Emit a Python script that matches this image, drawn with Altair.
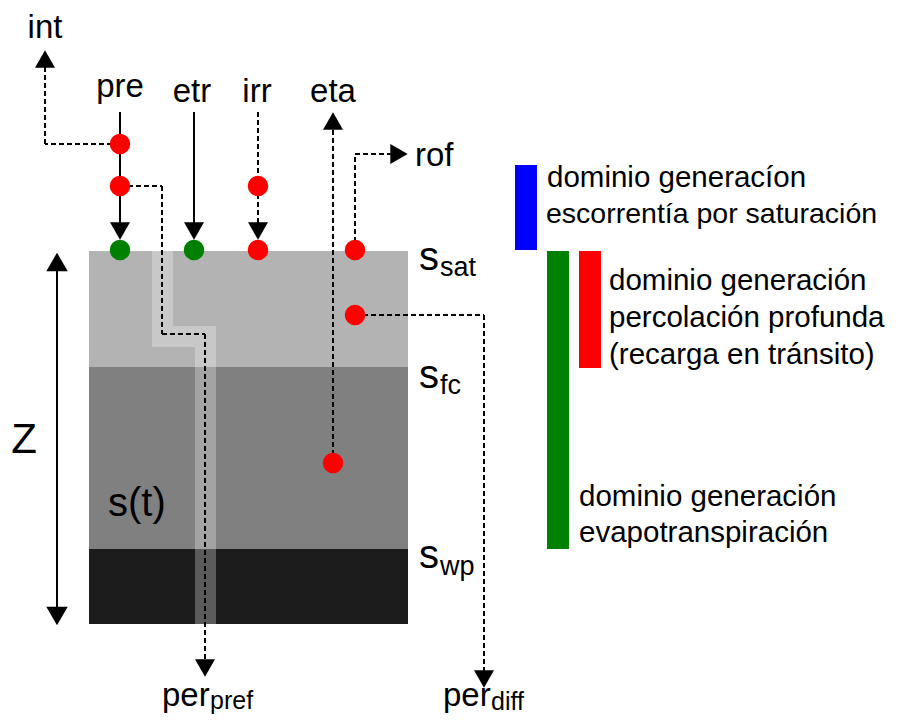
import altair as alt
import pandas as pd

FONT = "Liberation Sans"

# ---- soil column layers (x0, x1, y0, y1, colour) in page pixels ----
layer_x0 = [89, 89, 89]
layer_x1 = [408, 408, 408]
layer_y0 = [251, 367, 549]
layer_y1 = [367, 549, 624]
layer_col = ["#b3b3b3", "#808080", "#1c1c1c"]

# preferential flow path (semi-transparent white strip)
strip_x0 = [152, 152, 195]
strip_x1 = [173, 216, 216]
strip_y0 = [251, 326, 347]
strip_y1 = [326, 347, 624]

# legend bars
bar_x0 = [515, 547, 579]
bar_x1 = [537, 569, 601]
bar_y0 = [165, 251, 251]
bar_y1 = [250, 549, 368]
bar_col = ["#0000ff", "#008000", "#ff0000"]

# solid segments
solid_x = [120, 194, 57]
solid_y = [112, 112, 262]
solid_x2 = [120, 194, 57]
solid_y2 = [228, 228, 616]

# dashed segments
dash_x = [120, 45, 120, 162, 162, 205, 258, 258, 333, 355, 355, 355, 484]
dash_y = [144, 144, 186, 186, 334, 334, 112, 186, 463, 250, 154, 315, 315]
dash_x2 = [45, 45, 162, 162, 205, 205, 258, 258, 333, 355, 396, 484, 484]
dash_y2 = [144, 60, 186, 334, 334, 664, 186, 230, 124, 154, 154, 315, 674]

# arrowheads (centre positions and direction)
arr_x = [120, 194, 258, 45, 333, 399, 205, 484, 57, 57]
arr_y = [231, 231, 231, 59, 121, 154, 668, 679, 262, 616]
arr_shape = ["triangle-down", "triangle-down", "triangle-down", "triangle-up",
             "triangle-up", "triangle-right", "triangle-down", "triangle-down",
             "triangle-up", "triangle-down"]
arr_size = [400, 400, 400, 400, 400, 400, 400, 400, 460, 460]

# nodes
dot_x = [120, 120, 258, 258, 355, 355, 333, 120, 194]
dot_y = [144, 186, 186, 250, 250, 315, 463, 250, 250]
dot_col = ["#ff0000"] * 7 + ["#008000"] * 2

# centred labels
c_text = ["int", "pre", "etr", "irr", "eta", "Z"]
c_x = [45, 120, 192, 257, 333, 24]
c_y = [38, 97, 102, 102, 102, 453]
c_fs = [33, 33, 33, 33, 33, 42]

# left-aligned labels
l_text = ["rof", "s", "sat", "s", "fc", "s", "wp", "s(t)",
          "per", "pref", "per", "diff",
          "dominio generacíon", "escorrentía por saturación",
          "dominio generación", "percolación profunda", "(recarga en tránsito)",
          "dominio generación", "evapotranspiración"]
l_x = [415, 419, 440, 419, 440, 419, 440, 108,
       162, 210, 443, 491,
       547, 546,
       609, 609, 609,
       579, 579]
l_y = [166, 270, 276, 388, 394, 568, 575, 516,
       706, 709, 706, 710,
       187, 223,
       290, 327, 364,
       506, 542]
l_fs = [33, 40, 27, 40, 27, 40, 27, 40,
        33, 25, 33, 25,
        29.5, 28.5,
        29.5, 29.5, 29.5,
        29.5, 29.5]

X = lambda f="x": alt.X(f"{f}:Q", scale=alt.Scale(domain=[8, 889], nice=False, zero=False), axis=None)
Y = lambda f="y": alt.Y(f"{f}:Q", scale=alt.Scale(domain=[8, 715], nice=False, zero=False, reverse=True), axis=None)

layers_df = pd.DataFrame(dict(x=layer_x0, x2=layer_x1, y=layer_y0, y2=layer_y1, c=layer_col))
strip_df = pd.DataFrame(dict(x=strip_x0, x2=strip_x1, y=strip_y0, y2=strip_y1))
bar_df = pd.DataFrame(dict(x=bar_x0, x2=bar_x1, y=bar_y0, y2=bar_y1, c=bar_col))
solid_df = pd.DataFrame(dict(x=solid_x, y=solid_y, x2=solid_x2, y2=solid_y2))
dash_df = pd.DataFrame(dict(x=dash_x, y=dash_y, x2=dash_x2, y2=dash_y2))
arr_df = pd.DataFrame(dict(x=arr_x, y=arr_y, s=arr_shape, z=arr_size))
dot_df = pd.DataFrame(dict(x=dot_x, y=dot_y, c=dot_col))
ctext_df = pd.DataFrame(dict(x=c_x, y=c_y, t=c_text, fs=c_fs))
ltext_df = pd.DataFrame(dict(x=l_x, y=l_y, t=l_text, fs=l_fs))

rect_layers = alt.Chart(layers_df).mark_rect().encode(
    x=X(), x2="x2:Q", y=Y(), y2="y2:Q", color=alt.Color("c:N", scale=None))
strip = alt.Chart(strip_df).mark_rect(color="white", opacity=0.28).encode(
    x=X(), x2="x2:Q", y=Y(), y2="y2:Q")
bars = alt.Chart(bar_df).mark_rect().encode(
    x=X(), x2="x2:Q", y=Y(), y2="y2:Q", color=alt.Color("c:N", scale=None))
solid = alt.Chart(solid_df).mark_rule(color="black", strokeWidth=2).encode(
    x=X(), y=Y(), x2="x2:Q", y2="y2:Q")
dashed = alt.Chart(dash_df).mark_rule(color="black", strokeWidth=2, strokeDash=[5, 3]).encode(
    x=X(), y=Y(), x2="x2:Q", y2="y2:Q")
dots = alt.Chart(dot_df).mark_point(filled=True, opacity=1, shape="circle", size=420).encode(
    x=X(), y=Y(), color=alt.Color("c:N", scale=None))
arrows = alt.Chart(arr_df).mark_point(filled=True, opacity=1, color="black").encode(
    x=X(), y=Y(), shape=alt.Shape("s:N", scale=None), size=alt.Size("z:Q", scale=None))
ctext = alt.Chart(ctext_df).mark_text(align="center", baseline="alphabetic", font=FONT, color="black").encode(
    x=X(), y=Y(), text="t:N", size=alt.Size("fs:Q", scale=None))
ltext = alt.Chart(ltext_df).mark_text(align="left", baseline="alphabetic", font=FONT, color="black").encode(
    x=X(), y=Y(), text="t:N", size=alt.Size("fs:Q", scale=None))

chart = alt.layer(rect_layers, strip, bars, dashed, solid, dots, arrows, ctext, ltext).properties(
    width=881, height=707, padding=0, autosize=alt.AutoSizeParams(type="none"),
    background="white"
).configure_view(stroke=None)

chart.save("out.html", embed_options={"renderer": "svg", "actions": False})
